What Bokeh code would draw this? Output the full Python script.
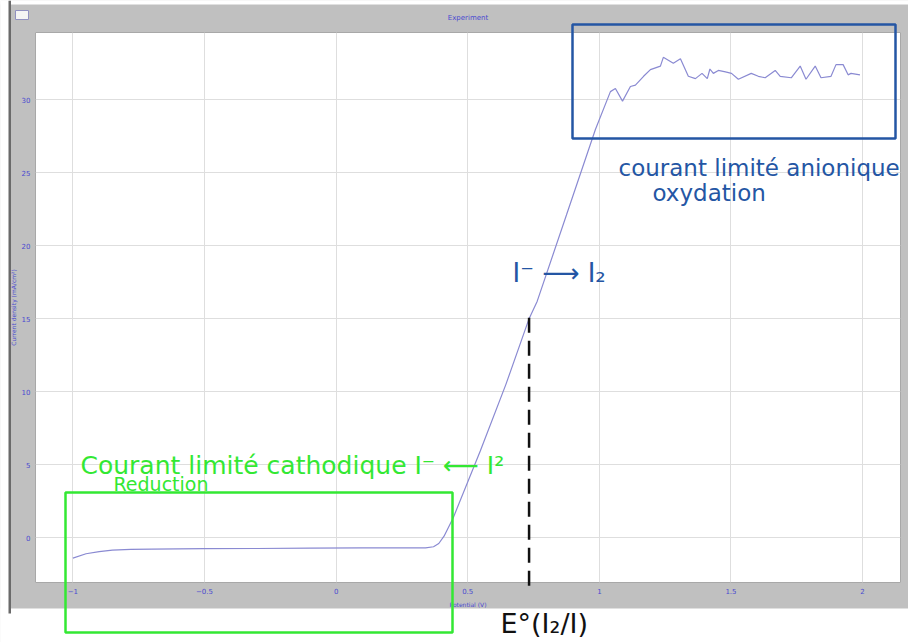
from bokeh.plotting import figure
from bokeh.layouts import column
from bokeh.models import BoxAnnotation, Label, Arrow, FixedTicker
from bokeh.embed import file_html
from bokeh.resources import INLINE

# ---------------- data ----------------
potential = [-1.0, -0.95, -0.9, -0.85, -0.78, -0.7, -0.5, -0.3, -0.1, 0.1, 0.25, 0.34,
             0.37, 0.39, 0.41, 0.445, 0.548, 0.645, 0.733, 0.764, 0.875, 0.985, 1.042,
             1.061, 1.088, 1.118, 1.137, 1.168, 1.194, 1.232, 1.243, 1.281, 1.308, 1.338,
             1.365, 1.39, 1.41, 1.42, 1.433, 1.452, 1.479, 1.502, 1.528, 1.577, 1.604,
             1.63, 1.668, 1.687, 1.729, 1.763, 1.785, 1.82, 1.842, 1.88, 1.899, 1.926,
             1.945, 1.956, 1.99]
current = [-1.4, -1.1, -0.95, -0.85, -0.8, -0.78, -0.75, -0.74, -0.72, -0.7, -0.7, -0.7,
           -0.62, -0.4, 0.1, 1.37, 5.95, 10.5, 15.0, 16.2, 22.1, 27.96, 30.55,
           30.76, 29.9, 30.9, 31.0, 31.6, 32.06, 32.3, 32.9, 32.5, 32.8, 31.6,
           31.44, 31.8, 31.44, 32.1, 31.8, 32.0, 31.9, 31.8, 31.4, 31.8, 31.6,
           31.5, 32.0, 31.6, 31.5, 32.3, 31.4, 32.3, 31.5, 31.6, 32.4, 32.4,
           31.7, 31.8, 31.7]
x_ticks = [-1, -0.5, 0, 0.5, 1, 1.5, 2]
y_ticks = [0, 5, 10, 15, 20, 25, 30]
e0_potential = 0.733
e0_current = 15.0

# ---------------- layout ----------------
W, H = 908, 642
FL, FR, FT, FB = 35, 900, 30, 582
X0, X1 = -1.142, 2.144
Y0, Y1 = -3.07, 34.6


def dx(px):
    return X0 + (px - FL) * (X1 - X0) / (FR - FL)


def dy(py):
    return Y1 - (py - FT) * (Y1 - Y0) / (FB - FT)


GREY = "#c0c0c0"
TXT = "#4a4ad0"

# ---------- main chart (grey window with real axes) ----------
p = figure(width=W, height=H, x_range=(X0, X1), y_range=(Y0, Y1),
           min_border_left=FL, min_border_right=W - FR, min_border_top=FT,
           min_border_bottom=H - FB, output_backend="svg", toolbar_location=None,
           title="Experiment")
p.background_fill_color = "white"
p.border_fill_color = GREY
p.outline_line_color = "#a8a8a8"

p.title.align = "center"
p.title.text_font_size = "7px"
p.title.text_font_style = "normal"
p.title.text_color = TXT
p.title.text_font = "DejaVu Sans"
p.title.standoff = 22

p.xaxis.ticker = FixedTicker(ticks=x_ticks)
p.yaxis.ticker = FixedTicker(ticks=y_ticks)
p.xgrid.ticker = FixedTicker(ticks=x_ticks)
p.ygrid.ticker = FixedTicker(ticks=y_ticks)
p.grid.grid_line_color = "#dedede"
p.grid.grid_line_width = 1

p.xaxis.axis_label = "Potential (V)"
p.yaxis.axis_label = "Current density (mA/cm²)"
for ax in (p.xaxis[0], p.yaxis[0]):
    ax.axis_line_color = None
    ax.major_tick_line_color = None
    ax.minor_tick_line_color = None
    ax.major_tick_out = 0
    ax.minor_tick_out = 0
    ax.major_label_text_font_size = "7px"
    ax.major_label_text_color = TXT
    ax.major_label_text_font = "DejaVu Sans"
    ax.axis_label_text_font_size = "6px"
    ax.axis_label_text_font_style = "normal"
    ax.axis_label_text_color = TXT
    ax.axis_label_text_font = "DejaVu Sans"
p.xaxis.major_label_standoff = 5
p.xaxis.axis_label_standoff = 4
p.yaxis.major_label_standoff = 5
p.yaxis.axis_label_standoff = 2

p.line(potential, current, line_color="#8a8ad2", line_width=1.2)

# ---------- transparent overlay for the hand-drawn notes ----------
o = figure(width=W, height=H, x_range=(dx(0), dx(W)), y_range=(dy(H), dy(0)),
           x_axis_type=None, y_axis_type=None, min_border=0,
           output_backend="svg", toolbar_location=None)
o.border_fill_alpha = 0
o.background_fill_alpha = 0
o.outline_line_color = None
o.margin = (-H, 0, 0, 0)
for fig in (p, o):
    if "frame_align" in fig.properties():
        fig.frame_align = False

# page background outside the grey window
for l, r, t, b in [(-20, 930, 608, 670), (-20, 9, -20, 670), (-20, 930, -20, 4)]:
    o.add_layout(BoxAnnotation(left=dx(l), right=dx(r), top=dy(t), bottom=dy(b),
                               fill_color="white", fill_alpha=1, line_color=None))
o.add_layout(BoxAnnotation(left=dx(8), right=dx(10.5), top=dy(0), bottom=dy(613),
                           fill_color="#6a6a6a", fill_alpha=1, line_color=None))
o.add_layout(BoxAnnotation(left=dx(15), right=dx(28), top=dy(10), bottom=dy(19),
                           fill_color="#f4f4f4", fill_alpha=1, line_color="#9090c0",
                           line_alpha=1, line_width=1))

BLUE = "#2456a4"
GREEN = "#33e833"
o.add_layout(BoxAnnotation(left=dx(572), right=dx(895), top=dy(24), bottom=dy(138),
                           fill_color=None, line_color=BLUE, line_alpha=1,
                           line_width=2.5))
o.add_layout(BoxAnnotation(left=dx(65), right=dx(452), top=dy(492), bottom=dy(632),
                           fill_color=None, line_color=GREEN, line_alpha=1,
                           line_width=2.5))
o.add_layout(Arrow(end=None, x_start=e0_potential, y_start=e0_current,
                   x_end=e0_potential, y_end=dy(593), line_color="#111111",
                   line_width=2.5, line_dash="15 8"))

FONT = "DejaVu Sans"
labels = [
    ("courant limité anionique", 618, 167, 23, "alphabetic", BLUE),
    ("oxydation", 652, 192, 23, "alphabetic", BLUE),
    ("I⁻ ⟶ I₂", 512, 272, 26, "alphabetic", BLUE),
    ("Courant limité cathodique I⁻ ⟵ I²", 80, 465, 25, "alphabetic", GREEN),
    ("Reduction", 113, 483, 19, "alphabetic", GREEN),
    ("E°(I₂/I)", 500, 638, 27, "bottom", "#111111"),
]
for text, lx, ly, fs, base, col in labels:
    o.add_layout(Label(x=dx(lx), y=dy(ly), text=text, text_font=FONT,
                       text_font_size=f"{fs}px", text_color=col,
                       text_baseline=base, text_align="left"))

layout = column(p, o, spacing=0)
open("out.html", "w").write(file_html(layout, INLINE))
